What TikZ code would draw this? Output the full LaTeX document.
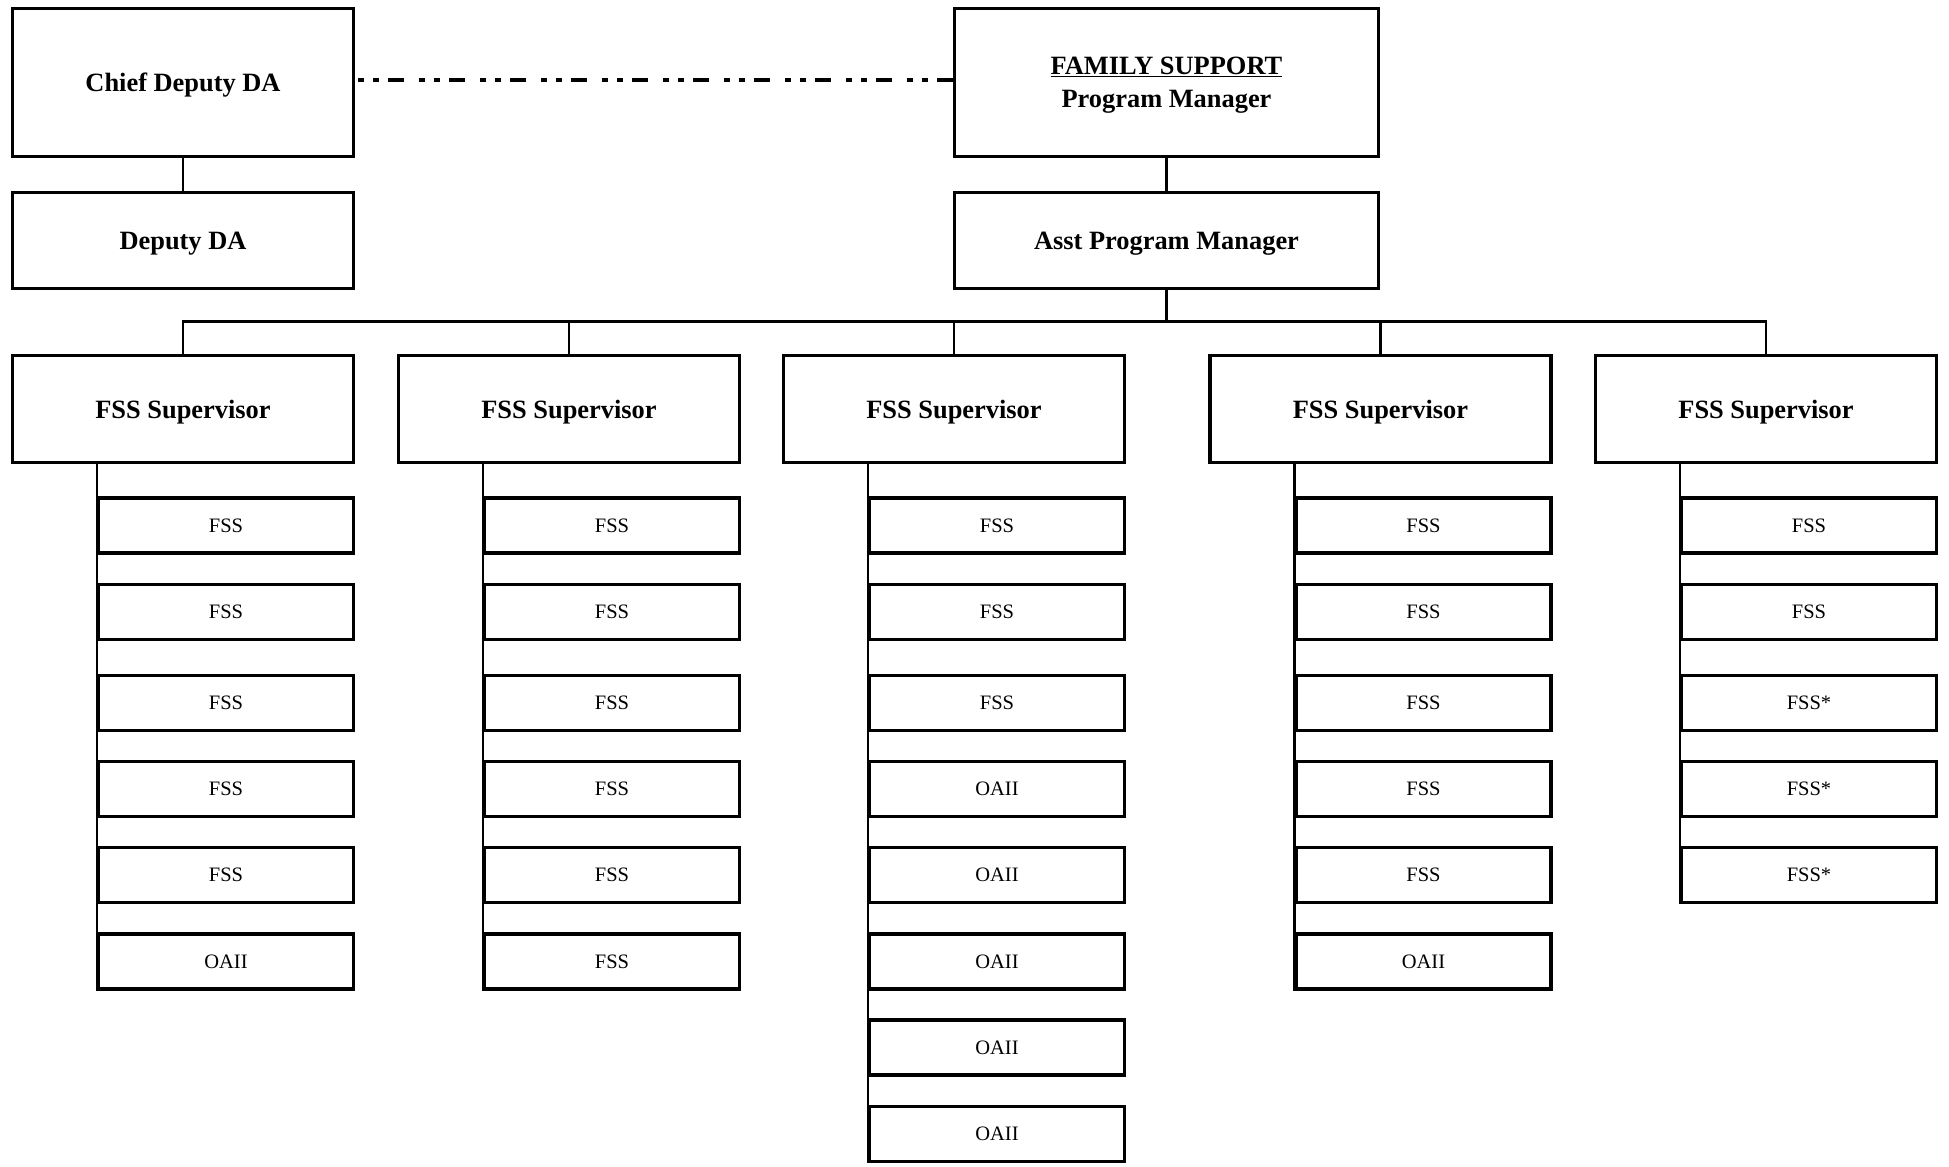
\documentclass[tikz,border=0pt]{standalone}
\usepackage{fontspec}
\setmainfont{Liberation Serif}
\begin{document}
\begin{tikzpicture}[x=1pt,y=1pt,
  bigbox/.style={draw, line width=3.2pt, inner sep=0pt, align=center, text depth=0pt,
    font=\bfseries\fontsize{26.4}{33}\selectfont},
  smallbox/.style={draw, line width=3.2pt, inner sep=0pt, minimum width=255pt,
    minimum height=55pt, font=\fontsize{20.5}{24}\selectfont},
  conn/.style={line width=2.6pt},
  dashdotline/.style={line width=3.2pt, dash pattern=on 16pt off 9pt on 6pt off 9pt on 6pt off 15pt}]
\useasboundingbox (0,0) rectangle (1949,-1167);

% top boxes
\node[bigbox, minimum width=341pt, minimum height=148pt] (chief) at (183,-82.5) {Chief Deputy DA};
\node[bigbox, minimum width=341pt, minimum height=96pt] (deputy) at (183,-240.5) {Deputy DA};
\node[bigbox, minimum width=424pt, minimum height=148pt] (fam) at (1166.5,-82.5) {\underline{FAMILY SUPPORT}\\Program Manager};
\node[bigbox, minimum width=424pt, minimum height=96pt] (asst) at (1166.5,-240.5) {Asst Program Manager};

\draw[conn] (chief.south) -- (deputy.north);
\draw[conn] (fam.south) -- (asst.north);
\draw[dashdotline] ([yshift=2.5pt]fam.west) -- ([yshift=2.5pt]chief.east);

% supervisors
\foreach \c/\x in {1/183, 2/569, 3/954, 4/1380.5, 5/1766}{
  \node[bigbox, minimum width=341pt, minimum height=107pt] (sup\c) at (\x,-409) {FSS Supervisor};
}

% bus
\coordinate (busy) at (0,-321.5);
\draw[conn] (asst.south) -- (asst.south |- busy);
\draw[conn] (sup1.north) -- (sup1.north |- busy) -- (sup5.north |- busy) -- (sup5.north);
\foreach \c in {2,3,4}{
  \draw[conn] (sup\c.north) -- (sup\c.north |- busy);
}

% staff boxes
\foreach \c/\sx/\names in {
  1/226/{FSS,FSS,FSS,FSS,FSS,OAII},
  2/612/{FSS,FSS,FSS,FSS,FSS,FSS},
  3/997/{FSS,FSS,FSS,OAII,OAII,OAII,OAII,OAII},
  4/1423.5/{FSS,FSS,FSS,FSS,FSS,OAII},
  5/1809/{FSS,FSS,FSS*,FSS*,FSS*}}{
  \foreach \t [count=\r] in \names{
    \pgfmathsetmacro{\yy}{{525.5,612,703,789,875,961.5,1047.5,1134}[\r-1]}
    \node[smallbox] (s\c-\r) at (\sx,-\yy) {\t};
  }
}

% vertical feeders
\draw[conn] (sup1.south -| s1-1.west) -- (s1-6.south west);
\draw[conn] (sup2.south -| s2-1.west) -- (s2-6.south west);
\draw[conn] (sup3.south -| s3-1.west) -- (s3-8.south west);
\draw[conn] (sup4.south -| s4-1.west) -- (s4-6.south west);
\draw[conn] (sup5.south -| s5-1.west) -- (s5-5.south west);
\end{tikzpicture}
\end{document}
